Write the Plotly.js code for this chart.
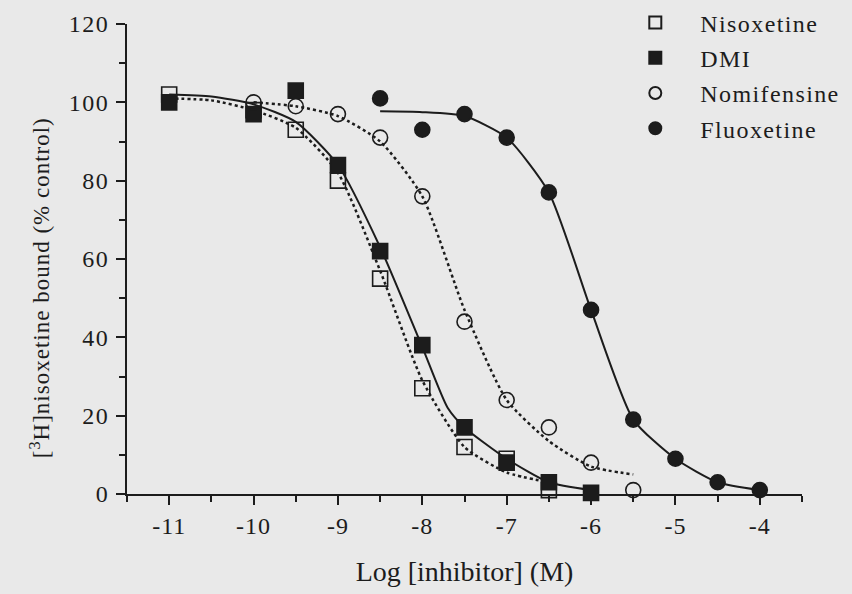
<!DOCTYPE html>
<html>
<head>
<meta charset="utf-8">
<script src="https://cdn.plot.ly/plotly-3.0.1.min.js"></script>
<style>
html,body{margin:0;padding:0;background:#e9e9e9;}
#chart{width:852px;height:594px;}
.legendtext{letter-spacing:1.4px;}
.ytick text{letter-spacing:1.5px;}
.xtick text{letter-spacing:1px;}
.annotation-text{letter-spacing:1px;}
</style>
</head>
<body>
<div id="chart"></div>
<script>
// Measured data points (log M, % control)
var nisX = [-11, -10, -9.5, -9, -8.5, -8, -7.5, -7, -6.5];
var nisY = [102, 98, 93, 80, 55, 27, 12, 9, 1];
var dmiX = [-11, -10, -9.5, -9, -8.5, -8, -7.5, -7, -6.5, -6];
var dmiY = [100, 97, 103, 84, 62, 38, 17, 8, 3, 0.3];
var nomX = [-10, -9.5, -9, -8.5, -8, -7.5, -7, -6.5, -6, -5.5];
var nomY = [100, 99, 97, 91, 76, 44, 24, 17, 8, 1];
var fluX = [-8.5, -8, -7.5, -7, -6.5, -6, -5.5, -5, -4.5, -4];
var fluY = [101, 93, 97, 91, 77, 47, 19, 9, 3, 1];

// Fitted curves
var nisFitX = [-11, -10.5, -10, -9.5, -9, -8.5, -8, -7.5, -7, -6.5];
var nisFitY = [101, 100.5, 98, 93.5, 82, 57, 29, 12, 5.5, 3];
var dmiFitX = [-11, -10.5, -10, -9.5, -9, -8.5, -8, -7.7, -7.5, -7, -6.5, -6];
var dmiFitY = [102, 101.5, 99.5, 95, 84, 63, 37.5, 22, 17, 9, 3, 1];
var nomFitX = [-10, -9.5, -9, -8.5, -8, -7.5, -7, -6.5, -6, -5.5];
var nomFitY = [100, 99, 96.5, 90, 76, 47, 24, 13.5, 7, 5];
var fluFitX = [-8.5, -8, -7.5, -7, -6.5, -6, -5.5, -5, -4.5, -4];
var fluFitY = [97.7, 97.5, 96.5, 91, 77, 47, 19, 9, 3, 1];

var legendNames = ['Nisoxetine', 'DMI', 'Nomifensine', 'Fluoxetine'];
var xTicks = [-11, -10, -9, -8, -7, -6, -5, -4];
var yTicks = [0, 20, 40, 60, 80, 100, 120];
var xTitle = 'Log [inhibitor] (M)';
var yTitle = '[<sup>3</sup>H]nisoxetine bound (% control)';

var ink = '#1c1c1c';
function curve(x, y, dash) {
  return {x: x, y: y, mode: 'lines', type: 'scatter', showlegend: false, hoverinfo: 'skip',
    line: {color: ink, width: dash === 'dot' ? 2.5 : 2, dash: dash, shape: 'spline', smoothing: 0.6},
    cliponaxis: false};
}
function pts(x, y, name, symbol, group) {
  return {x: x, y: y, mode: 'markers', type: 'scatter', name: name, legendgroup: group,
    marker: {symbol: symbol, size: 15, color: ink, line: {color: ink, width: 1.6}},
    cliponaxis: false};
}
var traces = [
  curve(nisFitX, nisFitY, 'dot'),
  curve(dmiFitX, dmiFitY, 'solid'),
  curve(nomFitX, nomFitY, 'dot'),
  curve(fluFitX, fluFitY, 'solid'),
  pts(nisX, nisY, legendNames[0], 'square-open', 'a'),
  pts(dmiX, dmiY, legendNames[1], 'square', 'b'),
  pts(nomX, nomY, legendNames[2], 'circle-open', 'c'),
  pts(fluX, fluY, legendNames[3], 'circle', 'd')
];

var layout = {
  width: 852, height: 594,
  paper_bgcolor: '#e9e9e9', plot_bgcolor: '#e9e9e9',
  margin: {l: 127, r: 50, t: 24, b: 100, autoexpand: false},
  font: {family: 'Liberation Serif', size: 22, color: ink},
  xaxis: {
    range: [-11.5, -3.5], tickvals: xTicks, ticktext: xTicks.map(String),
    showgrid: false, zeroline: false, showline: true, linecolor: ink, linewidth: 2,
    ticks: 'outside', ticklen: 9, tickwidth: 2, tickcolor: ink, tickfont: {size: 24},
    minor: {dtick: 0.5, tick0: -11, ticks: 'outside', ticklen: 6, tickwidth: 2, tickcolor: ink, showgrid: false},
    title: {text: xTitle, font: {size: 28}, standoff: 24}
  },
  yaxis: {
    range: [0, 120], tickvals: yTicks, ticktext: yTicks.map(String),
    showgrid: false, zeroline: false, showline: true, linecolor: ink, linewidth: 2,
    ticks: 'outside', ticklen: 9, tickwidth: 2, tickcolor: ink, tickfont: {size: 24},
    ticklabelstandoff: 2,
    minor: {dtick: 10, tick0: 0, ticks: 'outside', ticklen: 6, tickwidth: 2, tickcolor: ink, showgrid: false}
  },
  annotations: [{
    text: yTitle, xref: 'paper', yref: 'paper', x: -0.129, y: 0.44,
    xanchor: 'center', yanchor: 'middle', textangle: -90, showarrow: false,
    font: {size: 23, color: ink}
  }],
  legend: {
    x: 0.716, y: 1.05, xanchor: 'left', yanchor: 'top',
    bgcolor: 'rgba(0,0,0,0)', font: {size: 24}, traceorder: 'grouped', tracegroupgap: 1,
    itemwidth: 80, itemsizing: 'constant'
  },
  showlegend: true
};
Plotly.newPlot('chart', traces, layout, {displayModeBar: false, staticPlot: true});
</script>
</body>
</html>
